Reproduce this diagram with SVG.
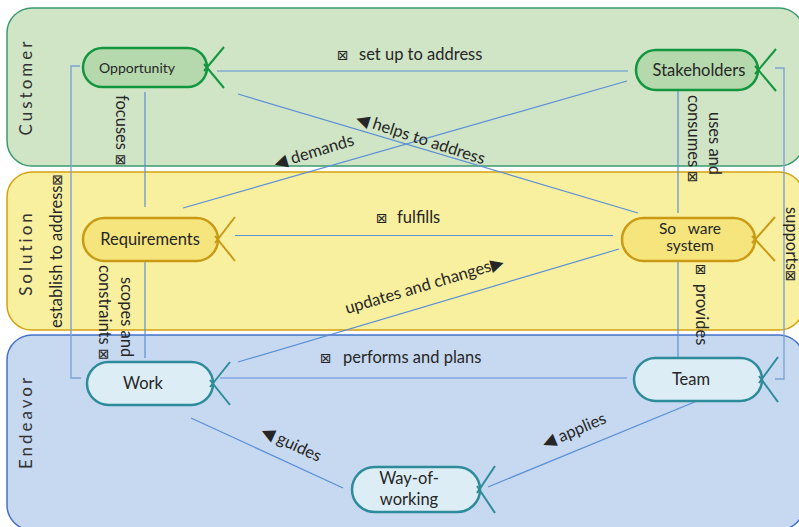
<svg xmlns="http://www.w3.org/2000/svg" width="799" height="527" viewBox="0 0 799 527">
<style>
.band-label{font-family:Lato,"Liberation Sans",sans-serif;font-size:17px;letter-spacing:3px;fill:#333}
.nt{font-family:Lato,"Liberation Sans",sans-serif;font-size:16.5px;fill:#262626;text-anchor:middle}
.lb{font-family:Lato,"Liberation Sans",sans-serif;font-size:16.5px;fill:#262626}
.sym{font-family:"DejaVu Sans",sans-serif;font-size:14px}
.tri{font-family:"DejaVu Sans",sans-serif;font-size:17px}
.con{fill:none;stroke:#5b8fd6;stroke-width:1.2}
.brk{fill:none;stroke:#7ea3d3;stroke-width:1.4}
.g-node rect{fill:#b5d9ac;stroke:#12963f;stroke-width:2.5}
.g-node line{stroke:#12963f;stroke-width:2}
.y-node rect{fill:#f6e57c;stroke:#c99a14;stroke-width:2.5}
.y-node line{stroke:#c99a14;stroke-width:2}
.b-node rect{fill:#dcedf6;stroke:#2e8b99;stroke-width:2.5}
.b-node line{stroke:#2e8b99;stroke-width:2}
</style>
<g id="bands">
<rect x="7" y="8" width="797" height="158" rx="25" fill="#d0e4c6" stroke="#3b9b6e" stroke-width="1.5"/>
<rect x="7" y="172" width="797" height="158" rx="25" fill="#f8ef9f" stroke="#d4a20f" stroke-width="1.5"/>
<rect x="7" y="335" width="797" height="195" rx="25" fill="#c6d9f0" stroke="#4472c4" stroke-width="1.5"/>
<text class="band-label" transform="translate(32,87) rotate(-90)" text-anchor="middle">Customer</text>
<text class="band-label" transform="translate(32,253) rotate(-90)" text-anchor="middle">Solution</text>
<text class="band-label" transform="translate(32,422) rotate(-90)" text-anchor="middle">Endeavor</text>
</g>
<g id="connectors">
<path class="con" d="M217,71 H628"/>
<path class="con" d="M145,92 V207"/>
<path class="brk" d="M80,66 H71 V378 H81"/>
<path class="con" d="M678,88 V213"/>
<path class="con" d="M678,250 V358"/>
<path class="brk" d="M775,68 H784 V379 H775"/>
<path class="con" d="M238,94 L638,213"/>
<path class="con" d="M627,81 L183,208"/>
<path class="con" d="M235,235.5 H613"/>
<path class="con" d="M238,362 L619,249"/>
<path class="con" d="M220,378 H627"/>
<path class="con" d="M145,258 V358"/>
<path class="con" d="M191,418 L343,488"/>
<path class="con" d="M697,401 L488,487"/>
<text class="lb" x="337" y="60"><tspan class="sym">⊠</tspan><tspan x="359">set up to address</tspan></text>
<text class="lb" transform="translate(116,95) rotate(90)">focuses <tspan class="sym">⊠</tspan></text>
<text class="lb" transform="translate(62,328) rotate(-90)">establish to address<tspan class="sym">⊠</tspan></text>
<text class="lb" transform="translate(121,277) rotate(90)">scopes and</text>
<text class="lb" transform="translate(99,265) rotate(90)">constraints <tspan class="sym">⊠</tspan></text>
<text class="lb" transform="translate(709,112) rotate(90)">uses and</text>
<text class="lb" transform="translate(688,95) rotate(90)">consumes <tspan class="sym">⊠</tspan></text>
<text class="lb" transform="translate(696,264) rotate(90)"><tspan class="sym">⊠</tspan><tspan dx="8">provides</tspan></text>
<text class="lb" transform="translate(786,207) rotate(90)">supports<tspan class="sym">⊠</tspan></text>
<text class="lb" x="376" y="223"><tspan class="sym">⊠</tspan><tspan x="397">fulfills</tspan></text>
<text class="lb" x="320" y="363"><tspan class="sym">⊠</tspan><tspan x="343">performs and plans</tspan></text>
<text class="lb" transform="translate(355,123) rotate(18)"><tspan class="tri">◀</tspan> helps to address</text>
<text class="lb" transform="translate(276,169) rotate(-17)"><tspan class="tri">◀</tspan> demands</text>
<text class="lb" transform="translate(347,314) rotate(-16.5)">updates and changes<tspan class="tri">▶</tspan></text>
<text class="lb" transform="translate(260,435) rotate(25)"><tspan class="tri">◀</tspan> guides</text>
<text class="lb" transform="translate(545,449) rotate(-23)"><tspan class="tri">◀</tspan> applies</text>
</g>
<g id="opportunity" class="g-node">
<rect x="83" y="48" width="124" height="39" rx="19.5"/>
<line x1="224" y1="47" x2="204" y2="71"/>
<line x1="204" y1="64" x2="224" y2="88"/>
<text class="nt" x="137" y="73" style="font-size:14px">Opportunity</text>
</g>
<g id="stakeholders" class="g-node">
<rect x="636" y="50" width="122" height="40" rx="20"/>
<line x1="776" y1="49" x2="755" y2="74"/>
<line x1="755" y1="66" x2="776" y2="91"/>
<text class="nt" x="699" y="76">Stakeholders</text>
</g>
<g id="requirements" class="y-node">
<rect x="83" y="218" width="135" height="43" rx="21.5"/>
<line x1="235" y1="217" x2="215" y2="243"/>
<line x1="215" y1="236" x2="235" y2="261"/>
<text class="nt" x="150" y="245">Requirements</text>
</g>
<g id="software-system" class="y-node">
<rect x="622" y="218" width="133" height="43" rx="21.5"/>
<line x1="775" y1="217" x2="752" y2="243"/>
<line x1="752" y1="236" x2="775" y2="261"/>
<text class="nt" x="690" y="234" style="font-size:15.5px">So&#160;&#160;&#160;ware</text>
<text class="nt" x="690" y="251" style="font-size:15.5px">system</text>
</g>
<g id="work" class="b-node">
<rect x="87" y="362" width="126" height="43" rx="21.5"/>
<line x1="230" y1="362" x2="210" y2="387"/>
<line x1="210" y1="380" x2="230" y2="405"/>
<text class="nt" x="143" y="389">Work</text>
</g>
<g id="team" class="b-node">
<rect x="634" y="358" width="128" height="43" rx="21.5"/>
<line x1="778" y1="357" x2="759" y2="383"/>
<line x1="759" y1="376" x2="778" y2="402"/>
<text class="nt" x="691" y="385">Team</text>
</g>
<g id="way-of-working" class="b-node">
<rect x="352" y="467" width="128" height="45" rx="22.5"/>
<line x1="495" y1="466" x2="477" y2="493"/>
<line x1="477" y1="486" x2="495" y2="513"/>
<text class="nt" x="409" y="484">Way-of-</text>
<text class="nt" x="409" y="505">working</text>
</g>
</svg>
